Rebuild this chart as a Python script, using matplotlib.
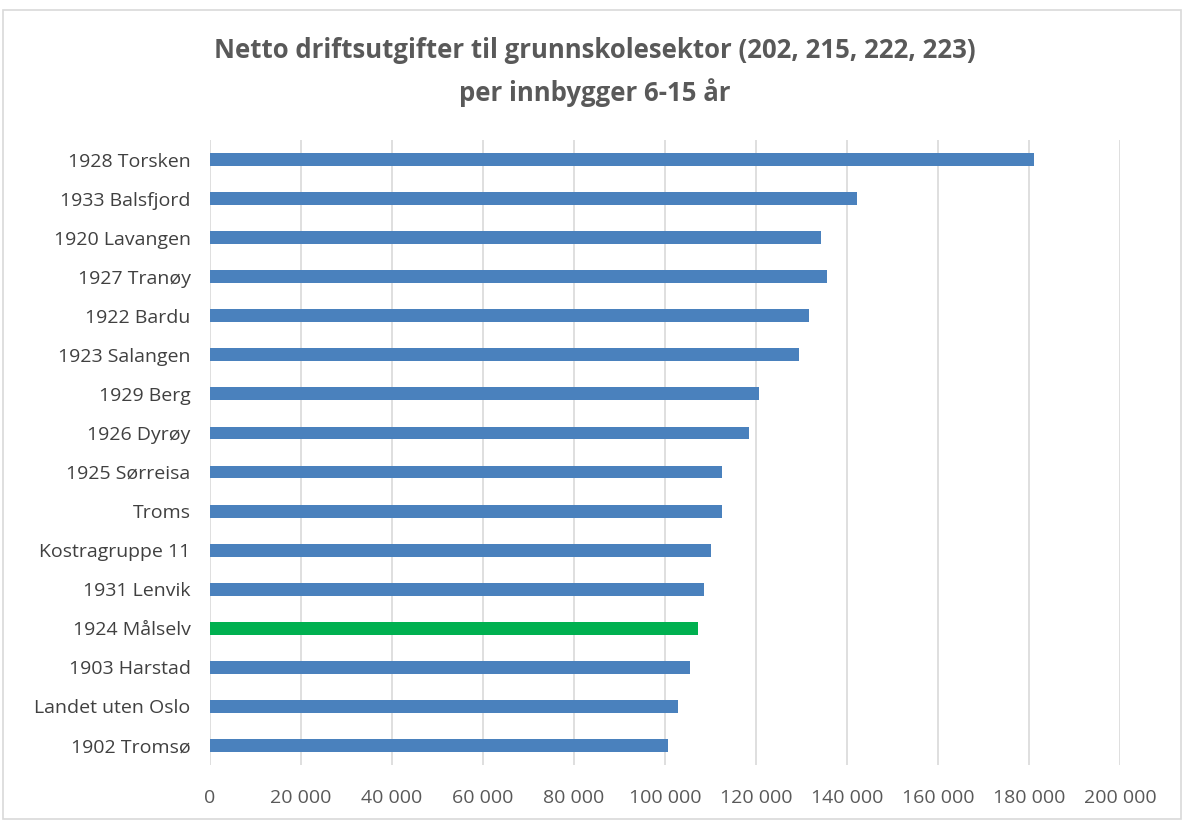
import matplotlib
matplotlib.use("Agg")
import matplotlib.pyplot as plt
from matplotlib.patches import Rectangle
from matplotlib.ticker import FuncFormatter

labels = ["1928 Torsken", "1933 Balsfjord", "1920 Lavangen", "1927 Tranøy", "1922 Bardu",
          "1923 Salangen", "1929 Berg", "1926 Dyrøy", "1925 Sørreisa", "Troms",
          "Kostragruppe 11", "1931 Lenvik", "1924 Målselv", "1903 Harstad",
          "Landet uten Oslo", "1902 Tromsø"]
values = [181100, 142200, 134300, 135600, 131700, 129500, 120700, 118500, 112500, 112500,
          110200, 108500, 107200, 105400, 102800, 100600]
highlight = "1924 Målselv"
xticks = list(range(0, 200001, 20000))

BLUE, GREEN = "#4a81bd", "#00b050"
colors = [GREEN if l == highlight else BLUE for l in labels]

fig = plt.figure(figsize=(11.84, 8.21), dpi=100)
ax = fig.add_axes([210/1184, 1-765/821, (1120-210)/1184, (765-140)/821])

ypos = list(range(len(labels)))[::-1]
ax.barh(ypos, values, height=0.33, color=colors, zorder=3)
ax.set_yticks(ypos)
ax.set_yticklabels(labels, fontsize=14, color="#404040", family="Open Sans")
ax.set_ylim(-0.5, len(labels) - 0.5)
ax.set_xlim(0, 200000)
ax.set_xticks(xticks)
ax.xaxis.set_major_formatter(FuncFormatter(lambda v, p: f"{int(v):,}".replace(",", " ")))
for t in ax.get_xticklabels():
    t.set_fontsize(14); t.set_color("#595959"); t.set_family("Open Sans")
ax.tick_params(axis="x", length=0, pad=17)
ax.tick_params(axis="y", length=0, pad=14)
ax.grid(axis="x", color="#d9d9d9", linewidth=1.2, zorder=0)
for s in ax.spines.values():
    s.set_visible(False)

fig.text(595/1184, 1-50/821, "Netto driftsutgifter til grunnskolesektor (202, 215, 222, 223)",
         ha="center", va="center", fontsize=18.5, fontweight="bold", color="#595959", family="Open Sans")
fig.text(595/1184, 1-93/821, "per innbygger 6-15 år",
         ha="center", va="center", fontsize=18.5, fontweight="bold", color="#595959", family="Open Sans")

fig.patches.append(Rectangle((3/1184, 0.002), 1-6/1184, 1-10/821-0.002, transform=fig.transFigure,
                             fill=False, edgecolor="#d9d9d9", linewidth=1.2))
fig.savefig("out.png", dpi=100)
